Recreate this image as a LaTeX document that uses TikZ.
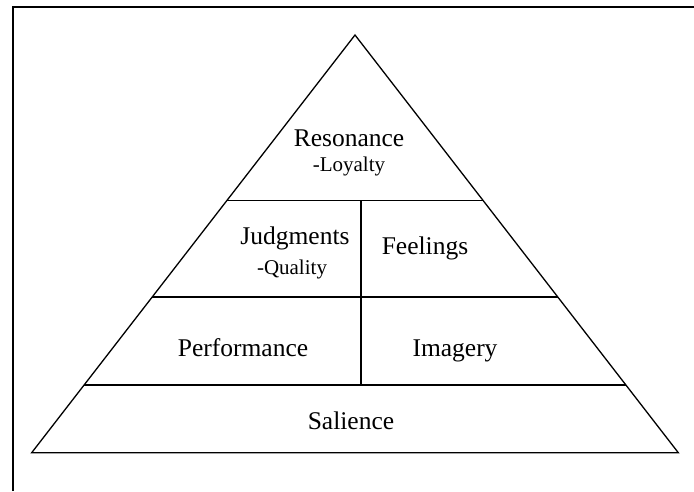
\documentclass[tikz,border=0pt]{standalone}
\usepackage{fontspec}
\setmainfont{Liberation Serif}
\usetikzlibrary{calc}
\begin{document}
\begin{tikzpicture}[x=1pt,y=-1pt,
  edge/.style={line width=1.3pt, line join=miter},
  big/.style={font=\fontsize{25.5}{30}\selectfont, anchor=base, inner sep=0pt},
  small/.style={font=\fontsize{21}{25}\selectfont, anchor=base, inner sep=0pt}]
\useasboundingbox (0,0) rectangle (694,491);
% frame
\coordinate (fbl) at (12.7,491);
\coordinate (ftl) at (12.7,7);
\coordinate (ftr) at (694,7);
\draw[line width=1.8pt] (fbl) -- (ftl) -- (ftr);
% pyramid
\coordinate (apex) at (355,35);
\coordinate (bl) at (31.7,452.7);
\coordinate (br) at (678.3,452.7);
\draw[edge] (apex) -- (bl) -- (br) -- cycle;
\coordinate (l1) at ($(apex)!165.7/417.7!(bl)$);
\coordinate (r1) at ($(apex)!165.7/417.7!(br)$);
\coordinate (l2) at ($(apex)!262/417.7!(bl)$);
\coordinate (r2) at ($(apex)!262/417.7!(br)$);
\coordinate (l3) at ($(apex)!350/417.7!(bl)$);
\coordinate (r3) at ($(apex)!350/417.7!(br)$);
\draw[edge] (l1) -- (r1);
\draw[edge] (l2) -- (r2);
\draw[edge] (l3) -- (r3);
\coordinate (vt) at (361,200.7);
\coordinate (vb) at (361,385);
\draw[edge] (vt) -- (vb);
% labels
\node[big] (res) at (349,146) {Resonance};
\node[small] (loy) at (349,171) {-Loyalty};
\node[big] (jud) at (295,244) {Judgments};
\node[small] (qua) at (292,274) {-Quality};
\node[big] (fee) at (425,254) {Feelings};
\node[big] (per) at (243,356) {Performance};
\node[big] (ima) at (455,356) {Imagery};
\node[big] (sal) at (351,429) {Salience};
\end{tikzpicture}
\end{document}
